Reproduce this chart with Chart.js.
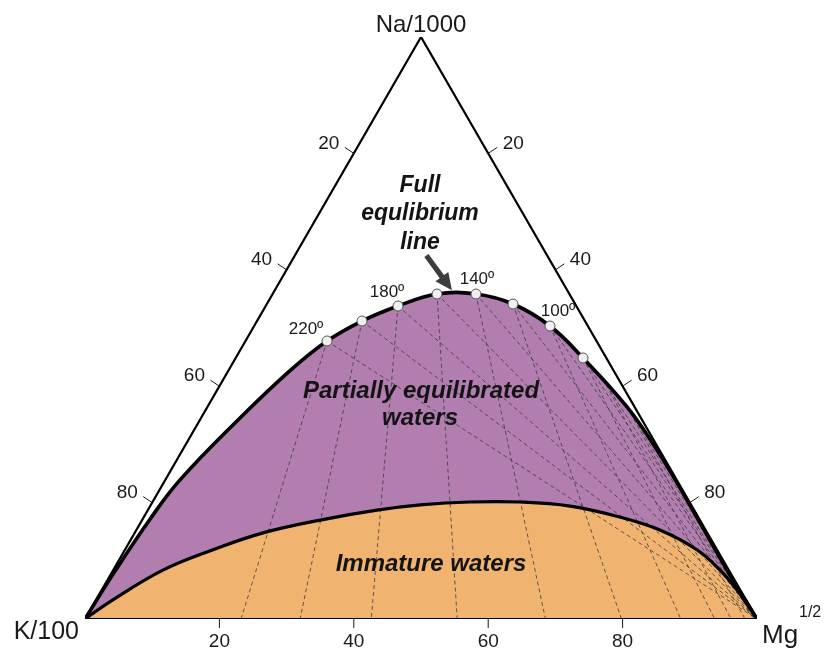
<!DOCTYPE html>
<html><head><meta charset="utf-8">
<script src="https://cdn.jsdelivr.net/npm/chart.js@4.4.1/dist/chart.umd.min.js"></script>
<style>html,body{margin:0;padding:0;background:#fff}#wrap{width:824px;height:651px;position:relative}</style>
</head><body><div id="wrap"><canvas id="c"></canvas></div>
<script>
// Ternary compositions in percent: Na (top apex), Mg (bottom right); K = 100 - Na - Mg (bottom left)
const fullEqNa = [0, 8.23, 17.15, 23.9, 34.54, 42.68, 47.77, 51.2, 53.78, 55.84, 55.84, 54.12, 50.34, 44.85, 36.43, 29.04, 20.45, 14.43, 8.42, 0];
const fullEqMg = [0, 0.35, 1.1, 2.19, 5.8, 9.17, 12.13, 15.62, 19.69, 24.46, 30.26, 36.63, 44.03, 51.68, 62.44, 70.6, 79.36, 85.35, 91.33, 100];

const immatureNa = [0, 3.3, 8.4, 11.9, 14.8, 17.0, 18.7, 19.6, 20.1, 20.1, 19.4, 17.5, 15.3, 11.9, 8.4, 5.0, 0];
const immatureMg = [0, 2.5, 7.4, 13.1, 19.1, 26.5, 34.1, 40.1, 47.2, 54.7, 62.5, 70.9, 77.9, 85.1, 90.3, 94.5, 100];

// isotherm points on the full equilibrium line (with markers)
const isoTemps = [220, 200, 180, 160, 140, 120, 100, 80];
const isoNa = [47.77, 51.2, 53.78, 55.84, 55.84, 54.12, 50.34, 44.85];
const isoMg = [12.13, 15.62, 19.69, 24.46, 30.26, 36.63, 44.03, 51.68];
const isoLabels = ['220º', '', '180º', '', '140º', '', '100º', ''];
// lower-temperature isotherm points (no markers)
const lowIsoNa = [40.2, 36.43, 29.04, 20.45];
const lowIsoMg = [57.5, 62.44, 70.6, 79.36];

const axisTicks = [20, 40, 60, 80];

const H = Math.sqrt(3) / 2;
const tern = (na, mg) => ({x: mg + na / 2, y: na * H});

const PURPLE = '#b27eaf', ORANGE = '#f1b470', DASH = '#3c3c3c';

const datasets = [];
const fullPts = fullEqNa.map((n, i) => tern(n, fullEqMg[i]));
const immPts = immatureNa.map((n, i) => tern(n, immatureMg[i]));

datasets.push({data: fullPts, fill: 'origin', backgroundColor: PURPLE, borderWidth: 0, pointRadius: 0, tension: 0.4, order: 30});
datasets.push({data: immPts, fill: 'origin', backgroundColor: ORANGE, borderWidth: 0, pointRadius: 0, tension: 0.4, order: 29});

const allNa = isoNa.concat(lowIsoNa), allMg = isoMg.concat(lowIsoMg);
allNa.forEach((na, i) => {
  const mg = allMg[i], k = 100 - na - mg;
  const bottomMg = 100 * mg / (k + mg);
  // K/Mg isotherm: ray from the Na apex down to the K-Mg edge
  datasets.push({data: [tern(na, mg), tern(0, bottomMg)], borderColor: DASH, borderWidth: 0.8, borderDash: [4, 3], pointRadius: 0, fill: false, order: 20});
  // K/Na isotherm: ray to the Mg apex
  datasets.push({data: [tern(na, mg), tern(0, 100)], borderColor: DASH, borderWidth: 0.8, borderDash: [4, 3], pointRadius: 0, fill: false, order: 20});
});

datasets.push({data: immPts, borderColor: '#000', borderWidth: 3.2, pointRadius: 0, tension: 0.4, fill: false, order: 6});
datasets.push({data: fullPts, borderColor: '#000', borderWidth: 3.6, pointRadius: 0, tension: 0.4, fill: false, order: 5});
datasets.push({data: [tern(0, 0), tern(0, 100), tern(100, 0), tern(0, 0)], borderColor: '#000', borderWidth: 2.2, pointRadius: 0, tension: 0, fill: false, order: 4});
datasets.push({data: isoNa.map((n, i) => tern(n, isoMg[i])), showLine: false, pointRadius: 5, pointBackgroundColor: '#efefef', pointBorderColor: '#555', pointBorderWidth: 1, order: 1});

const overlay = {
  id: 'overlay',
  afterDatasetsDraw(chart) {
    const {ctx, scales: {x, y}} = chart;
    const P = (na, mg) => { const t = tern(na, mg); return [x.getPixelForValue(t.x), y.getPixelForValue(t.y)]; };
    ctx.save();
    ctx.fillStyle = '#1a1a1a';
    ctx.strokeStyle = '#1a1a1a';
    ctx.textAlign = 'center';
    ctx.textBaseline = 'middle';
    // axis ticks
    ctx.lineWidth = 1;
    ctx.font = '19px "Liberation Sans", Arial, sans-serif';
    axisTicks.forEach(v => {
      let [px, py] = P(100 - v, 0);
      ctx.beginPath(); ctx.moveTo(px, py); ctx.lineTo(px - 9, py - 6); ctx.stroke();
      ctx.fillText(String(v), px - 25, py - 10);
      [px, py] = P(100 - v, v);
      ctx.beginPath(); ctx.moveTo(px, py); ctx.lineTo(px + 9, py - 6); ctx.stroke();
      ctx.fillText(String(v), px + 25, py - 10);
      [px, py] = P(0, v);
      ctx.beginPath(); ctx.moveTo(px, py); ctx.lineTo(px, py + 9); ctx.stroke();
      ctx.fillText(String(v), px, py + 23);
    });
    // apex labels
    ctx.font = '24px "Liberation Sans", Arial, sans-serif';
    let [ax, ay] = P(100, 0);
    ctx.fillText('Na/1000', ax, ay - 12);
    [ax, ay] = P(0, 0);
    ctx.textAlign = 'right';
    ctx.font = '25px "Liberation Sans", Arial, sans-serif';
    ctx.fillText('K/100', ax - 6, ay + 13);
    [ax, ay] = P(0, 100);
    ctx.textAlign = 'left';
    ctx.font = '26px "Liberation Sans", Arial, sans-serif';
    ctx.fillText('Mg', ax + 5, ay + 17);
    ctx.font = '16px "Liberation Sans", Arial, sans-serif';
    ctx.fillText('1/2', ax + 42, ay - 6);
    // temperature labels
    ctx.textAlign = 'center';
    ctx.font = '17px "Liberation Sans", Arial, sans-serif';
    const offs = {'220º': [-21, -12], '180º': [-11, -14], '140º': [1, -15], '100º': [8, -15]};
    isoLabels.forEach((lab, i) => {
      if (!lab) return;
      const [px, py] = P(isoNa[i], isoMg[i]);
      ctx.fillText(lab, px + offs[lab][0], py + offs[lab][1]);
    });
    // region labels
    ctx.fillStyle = '#141414';
    ctx.font = 'italic bold 23px "Liberation Sans", Arial, sans-serif';
    ctx.fillText('Full', 420, 186);
    ctx.fillText('equlibrium', 420, 214);
    ctx.fillText('line', 420, 243);
    ctx.font = 'italic bold 24px "Liberation Sans", Arial, sans-serif';
    ctx.fillText('Partially equilibrated', 421, 391);
    ctx.fillText('waters', 420, 418);
    ctx.fillText('Immature waters', 431, 564);
    // arrow
    const t0 = [x.getPixelForValue(50.8), y.getPixelForValue(54.1)];
    const t1 = [x.getPixelForValue(54.6), y.getPixelForValue(48.9)];
    const dx = t1[0] - t0[0], dy = t1[1] - t0[1], L = Math.hypot(dx, dy);
    const ux = dx / L, uy = dy / L, nx = -uy, ny = ux;
    const hb = [t1[0] - ux * 17, t1[1] - uy * 17];
    const sw = 2.6, hw = 8;
    ctx.fillStyle = '#3d3d3d';
    ctx.beginPath();
    ctx.moveTo(t0[0] + nx * sw, t0[1] + ny * sw);
    ctx.lineTo(hb[0] + nx * sw, hb[1] + ny * sw);
    ctx.lineTo(hb[0] + nx * hw, hb[1] + ny * hw);
    ctx.lineTo(t1[0], t1[1]);
    ctx.lineTo(hb[0] - nx * hw, hb[1] - ny * hw);
    ctx.lineTo(hb[0] - nx * sw, hb[1] - ny * sw);
    ctx.lineTo(t0[0] - nx * sw, t0[1] - ny * sw);
    ctx.closePath();
    ctx.fill();
    ctx.restore();
  }
};

new Chart(document.getElementById('c'), {
  type: 'line',
  data: {datasets},
  options: {
    responsive: true,
    maintainAspectRatio: false,
    animation: false,
    events: [],
    layout: {padding: {left: 85, right: 67, top: 37, bottom: 32}},
    scales: {
      x: {type: 'linear', min: 0, max: 100, display: false},
      y: {type: 'linear', min: 0, max: 100 * H, display: false}
    },
    plugins: {legend: {display: false}, tooltip: {enabled: false}},
    elements: {line: {capBezierPoints: true}}
  },
  plugins: [overlay]
});
</script>
</body></html>
